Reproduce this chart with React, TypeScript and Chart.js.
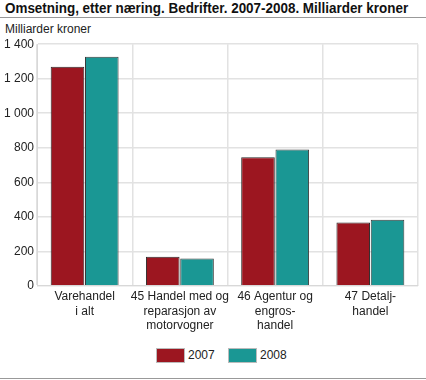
import React, { useEffect, useRef, useLayoutEffect } from "react";
import { Chart, registerables } from "chart.js";
Chart.register(...registerables);

const categories: string[][] = [
  ["Varehandel", "i alt"],
  ["45 Handel med og", "reparasjon av", "motorvogner"],
  ["46 Agentur og", "engros-", "handel"],
  ["47 Detalj-", "handel"],
];
const seriesNames = ["2007", "2008"];
const values2007 = [1270, 168, 745, 367];
const values2008 = [1328, 158, 790, 383];
const colors = ["#9c1620", "#1a9794"];

const FONT = "'Liberation Sans', Arial, sans-serif";

export default function App() {
  const ref = useRef<HTMLCanvasElement>(null);
  const titleRef = useRef<HTMLDivElement>(null);
  useLayoutEffect(() => {
    const t = titleRef.current;
    if (t) {
      const w = t.scrollWidth;
      if (w > 0) t.style.transform = `scaleX(${403 / w})`;
    }
  }, []);
  useEffect(() => {
    const chart = new Chart(ref.current!, {
      type: "bar",
      data: {
        labels: categories,
        datasets: [
          { label: seriesNames[0], data: values2007, backgroundColor: colors[0], borderColor: "#2a2a2a", borderWidth: 1 },
          { label: seriesNames[1], data: values2008, backgroundColor: colors[1], borderColor: "#3a3a3a", borderWidth: 1 },
        ],
      },
      options: {
        animation: false,
        responsive: false,
        maintainAspectRatio: false,
        layout: { padding: { left: 1, right: 8, top: 8, bottom: 0 } },
        datasets: { bar: { categoryPercentage: 0.72, barPercentage: 0.98 } } as any,
        plugins: {
          legend: { display: false },
          tooltip: { enabled: false },
        },
        scales: {
          x: {
            grid: { color: "#e2e2e2", lineWidth: 1.5, drawTicks: false },
            border: { color: "#d8d8d8" },
            ticks: { color: "#222", font: { family: FONT, size: 12 }, padding: 4, maxRotation: 0, autoSkip: false },
          },
          y: {
            min: 0,
            max: 1400,
            grid: { color: "#e2e2e2", lineWidth: 1.5, drawTicks: false },
            border: { color: "#d8d8d8" },
            ticks: {
              stepSize: 200,
              color: "#222",
              padding: 3,
              font: { family: FONT, size: 12 },
              callback: (v: any) => String(v).replace(/\B(?=(\d{3})+(?!\d))/g, " "),
            },
          },
        },
      },
    });
    return () => chart.destroy();
  }, []);
  const legendItem = (i: number, boxLeft: number) => (
    <React.Fragment key={i}>
      <div style={{ position: "absolute", left: boxLeft, top: 348, width: 29, height: 15, boxSizing: "border-box", background: colors[i], border: "1px solid #bbb" }} />
      <div style={{ position: "absolute", left: boxLeft + 32, top: 347, fontSize: 12, lineHeight: "16px", color: "#222" }}>{seriesNames[i]}</div>
    </React.Fragment>
  );
  return (
    <div style={{ position: "fixed", left: 0, top: 0, width: 426, height: 380, background: "#fff", fontFamily: FONT }}>
      <div
        ref={titleRef}
        style={{ position: "absolute", left: 5, top: 0, fontSize: 14, fontWeight: "bold", color: "#111", whiteSpace: "nowrap", lineHeight: "17px", transformOrigin: "0 0", display: "inline-block" }}
      >
        Omsetning, etter næring. Bedrifter. 2007-2008. Milliarder kroner
      </div>
      <div style={{ position: "absolute", left: 0, top: 17, width: 426, height: 1, background: "#999" }} />
      <div style={{ position: "absolute", left: 5, top: 22, fontSize: 12, lineHeight: "14px", color: "#222" }}>Milliarder kroner</div>
      <canvas ref={ref} width={426} height={303} style={{ position: "absolute", left: 0, top: 34, width: 426, height: 303 }} />
      {legendItem(0, 156)}
      {legendItem(1, 228)}
      <div style={{ position: "absolute", left: 0, top: 378, width: 426, height: 1, background: "#999" }} />
    </div>
  );
}
